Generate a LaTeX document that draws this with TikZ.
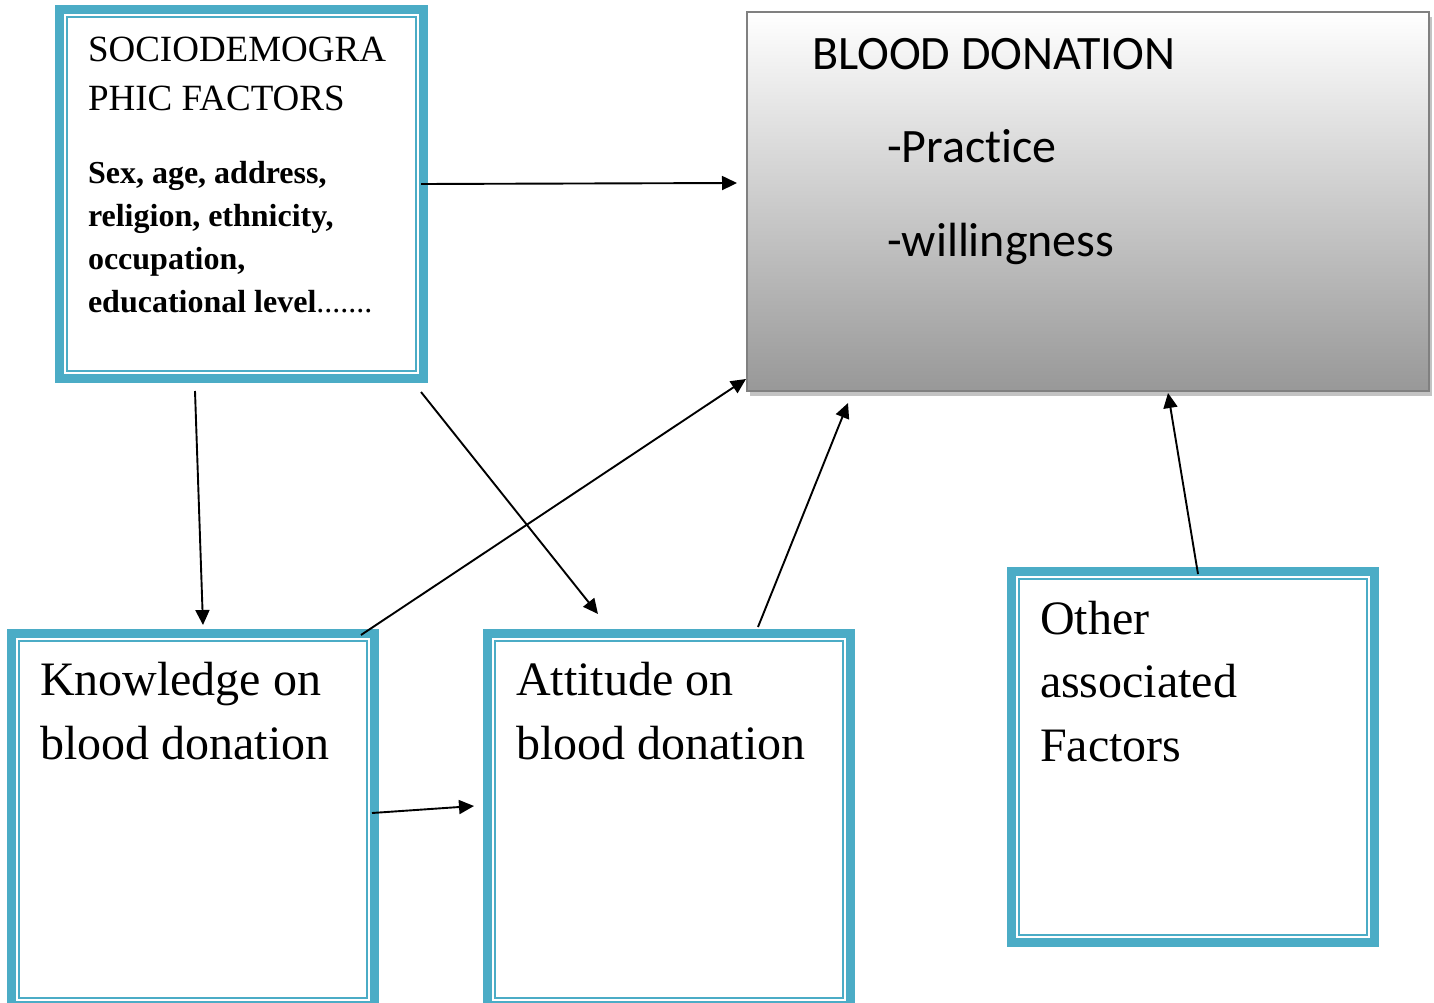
\documentclass[tikz,border=0pt]{standalone}
\usepackage{fontspec}
\setmainfont{Liberation Serif}
\newfontfamily\calibri[Ligatures=NoCommon]{Carlito}
\usetikzlibrary{arrows.meta,shadows}
\definecolor{acc}{RGB}{75,172,198}
\definecolor{gbord}{RGB}{128,128,128}
\definecolor{gbot}{RGB}{152,152,152}
\definecolor{gshad}{RGB}{195,195,195}
\begin{document}
\begin{tikzpicture}[x=1pt,y=-1pt,
  framebox/.style={draw=acc, line width=9pt, inner sep=0pt, outer sep=0pt, fill=white},
  innerline/.style={draw=acc, line width=2pt},
  conn/.style={line width=1.9pt, -{Triangle[length=15pt,width=14pt]}},
  lbl/.style={anchor=base west, inner sep=0pt, outer sep=0pt},
  smallhead/.style={font=\fontsize{37}{37}\selectfont},
  boldtxt/.style={font=\fontsize{32}{32}\selectfont\bfseries},
  bigtxt/.style={font=\fontsize{48}{48}\selectfont},
  caltxt/.style={font=\fontsize{48}{48}\selectfont\calibri}]
\useasboundingbox (0,0) rectangle (1434,1003);
\fill[white] (0,0) rectangle (1434,1003);

% blood donation box
\node[draw=gbord, line width=2pt, inner sep=0pt, outer sep=0pt,
      top color=white, bottom color=gbot,
      minimum width=682pt, minimum height=379pt,
      drop shadow={shadow xshift=3pt, shadow yshift=-5pt, fill=gshad, opacity=1}]
      (blood) at (1088,201.5) {};

% framed boxes
\node[framebox, minimum width=364pt, minimum height=369pt] (socio) at (241.5,194) {};
\node[framebox, minimum width=363pt, minimum height=371.5pt] (know) at (193,819.25) {};
\node[framebox, minimum width=363pt, minimum height=371.5pt] (att) at (669,819.25) {};
\node[framebox, minimum width=363pt, minimum height=371pt] (other) at (1193,757) {};
\foreach \b in {socio,know,att,other}{
  \draw[innerline] ([shift={(7.5,7.5)}]\b.north west) rectangle ([shift={(-7.5,-7.5)}]\b.south east);
}

% texts
\node[lbl, smallhead] (s1) at (88,62) {SOCIODEMOGRA};
\node[lbl, smallhead] (s2) at (88,111) {PHIC FACTORS};
\node[lbl, boldtxt] (b1) at (88,183) {Sex, age, address,};
\node[lbl, boldtxt] (b2) at (88,226) {religion, ethnicity,};
\node[lbl, boldtxt] (b3) at (88,269) {occupation,};
\node[lbl, boldtxt] (b4) at (88,312) {educational level\textmd{.......}};

\node[lbl, caltxt] (t1) at (812,70) {BLOOD DONATION};
\node[lbl, caltxt] (t2) at (887,163) {-Practice};
\node[lbl, caltxt] (t3) at (887,256) {-willingness};

\node[lbl, bigtxt] (k1) at (40,695) {Knowledge on};
\node[lbl, bigtxt] (k2) at (40,759) {blood donation};
\node[lbl, bigtxt] (a1) at (516,695) {Attitude on};
\node[lbl, bigtxt] (a2) at (516,759) {blood donation};
\node[lbl, bigtxt] (o1) at (1040,634) {Other};
\node[lbl, bigtxt] (o2) at (1040,697) {associated};
\node[lbl, bigtxt] (o3) at (1040,761) {Factors};

% connectors
\draw[conn] ([shift={(-2.5,-10)}]socio.east) -- ([shift={(-10,-18.5)}]blood.west);
\draw[conn] ([shift={(-46.5,12.5)}]socio.south) -- ([shift={(10,-8.5)}]know.north);
\draw[conn] ([shift={(-2.5,13.5)}]socio.south east) -- ([shift={(-71,-19.5)}]att.north);
\draw[conn] ([shift={(-13.5,1.5)}]know.north east) -- ([shift={(-1,-12)}]blood.south west);
\draw[conn] ([shift={(89,-6.5)}]att.north) -- ([shift={(101,12)}]blood.south west);
\draw[conn] ([shift={(5,2.5)}]other.north) -- ([shift={(80,2)}]blood.south);
\draw[conn] ([shift={(-2.5,-6.25)}]know.east) -- ([shift={(-13.5,-13.25)}]att.west);
\end{tikzpicture}
\end{document}
